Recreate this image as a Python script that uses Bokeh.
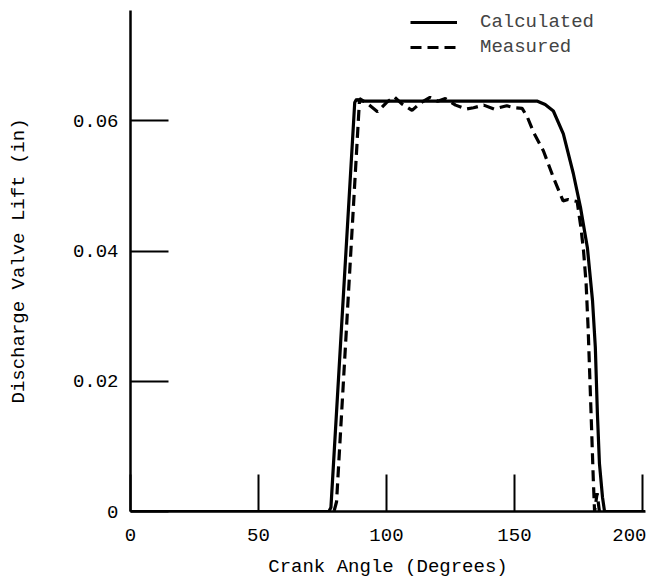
from bokeh.plotting import figure
from bokeh.models import FixedTicker, Legend, LegendItem, Range1d
from bokeh.embed import file_html
from bokeh.resources import INLINE

# ---- data ----
calc_angle = [0, 77.5, 78.3, 87.6, 88.3, 89.5, 159.0, 162.0, 165.2, 169.1, 173.0, 175.8,
              178.5, 180.5, 181.6, 182.4, 183.2, 184.4, 185.2, 201.0]
calc_lift = [0, 0, 0.0006, 0.0628, 0.0633, 0.063, 0.063, 0.0625, 0.0615, 0.058, 0.0519, 0.0467,
             0.0405, 0.0324, 0.0252, 0.0151, 0.0074, 0.0022, 0, 0]

meas_angle = [0, 79.5, 80.5, 89.5, 92.0, 96.5, 100.0, 103.0, 106.0, 110.0, 113.5, 117.0, 120.0,
              123.0, 127.0, 131.0, 134.0, 138.0, 142.0, 147.0, 150.0, 153.0, 155.0, 157.5,
              161.3, 165.2, 169.0, 171.0, 174.5, 176.0, 177.0, 178.0, 178.8, 179.5, 180.2,
              180.8, 181.3, 182.3, 183.2, 201.0]
meas_lift = [0, 0, 0.0015, 0.0634, 0.0628, 0.0614, 0.0628, 0.0637, 0.0626, 0.0616, 0.0628, 0.0636,
             0.063, 0.0634, 0.0624, 0.0618, 0.062, 0.0624, 0.0618, 0.0623, 0.062, 0.0619, 0.0606,
             0.0582, 0.0554, 0.0513, 0.0477, 0.0479, 0.0476, 0.0435, 0.040, 0.035, 0.028, 0.020,
             0.012, 0.005, 0, 0.0028, 0, 0]

x_ticks = [0, 50, 100, 150, 200]
y_ticks = [0, 0.02, 0.04, 0.06]
y_tick_labels = {0: "0", 0.02: "0.02", 0.04: "0.04", 0.06: "0.06"}

FONT = "Liberation Mono"

p = figure(width=646, height=580, output_backend="svg", toolbar_location=None,
           x_range=Range1d(0, 201.2), y_range=Range1d(0, 0.07693),
           min_border_left=130, min_border_right=1, min_border_top=10, min_border_bottom=68)
p.outline_line_color = None
p.grid.visible = False
p.background_fill_color = "white"
p.border_fill_color = "white"

r_calc = p.line(calc_angle, calc_lift, line_color="black", line_width=3.2)
r_meas = p.line(meas_angle, meas_lift, line_color="black", line_width=3.2, line_dash="11 6")

# axes
for ax in (p.xaxis[0], p.yaxis[0]):
    ax.axis_line_width = 2.5
    ax.axis_line_color = "black"
    ax.major_tick_line_width = 2
    ax.major_tick_line_color = "black"
    ax.minor_tick_line_color = None
    ax.major_tick_out = 0
    ax.major_label_text_font = FONT
    ax.major_label_text_font_size = "19px"
    ax.major_label_text_color = "black"
    ax.axis_label_text_font = FONT
    ax.axis_label_text_font_style = "normal"
    ax.axis_label_text_font_size = "19px"
    ax.axis_label_text_color = "black"

p.xaxis.ticker = FixedTicker(ticks=x_ticks)
p.xaxis.major_tick_in = 37
p.xaxis.major_label_text_align = "right"
p.xaxis.major_label_standoff = 17
p.xaxis.axis_label = "Crank Angle (Degrees)"
p.xaxis.axis_label_standoff = 12

p.yaxis.ticker = FixedTicker(ticks=y_ticks)
p.yaxis.major_label_overrides = y_tick_labels
p.yaxis.major_tick_in = 38
p.yaxis.major_label_standoff = 12
p.yaxis.axis_label = "Discharge Valve Lift (in)"
p.yaxis.axis_label_standoff = 40

legend = Legend(items=[LegendItem(label="Calculated", renderers=[r_calc]),
                       LegendItem(label="Measured", renderers=[r_meas])],
                location=(280, 453), padding=0, margin=0, spacing=3,
                glyph_width=47, glyph_height=22, label_height=22, label_standoff=23,
                label_text_font=FONT, label_text_font_size="19px",
                border_line_color=None, background_fill_alpha=0)
p.add_layout(legend)

open("out.html", "w").write(file_html(p, INLINE))
